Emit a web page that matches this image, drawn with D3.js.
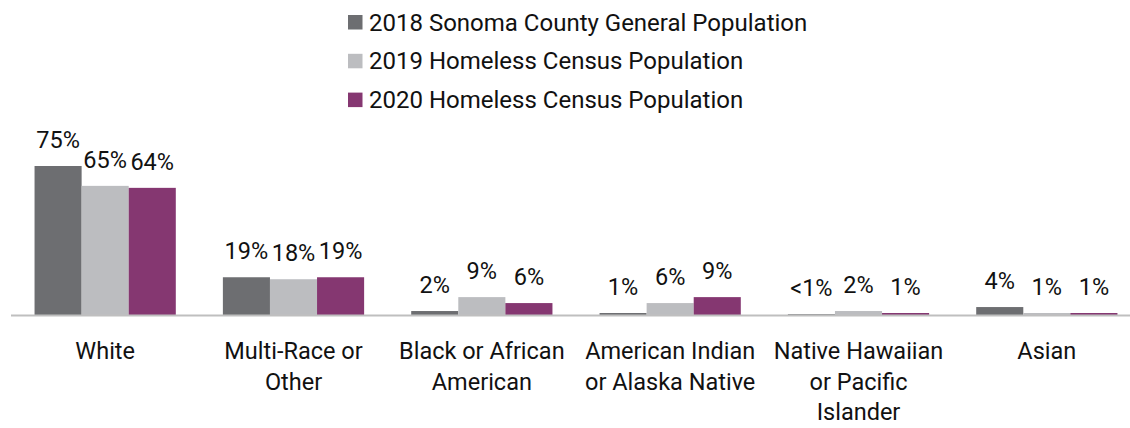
<!DOCTYPE html>
<html>
<head>
<meta charset="utf-8">
<script src="https://cdn.jsdelivr.net/npm/d3@7"></script>
<style>
  html, body { margin: 0; padding: 0; background: #ffffff; }
  svg { display: block; font-family: Roboto, "Noto Sans", Arial, sans-serif; }
</style>
</head>
<body>
<svg id="chart" width="1130" height="428"></svg>
<script>
// Race / ethnicity groups (line breaks mark the wrapped label lines)
const categories = [
  "White",
  "Multi-Race or\nOther",
  "Black or African\nAmerican",
  "American Indian\nor Alaska Native",
  "Native Hawaiian\nor Pacific\nIslander",
  "Asian"
];

const seriesNames = [
  "2018 Sonoma County General Population",
  "2019 Homeless Census Population",
  "2020 Homeless Census Population"
];

const seriesColors = ["#6d6e71", "#bcbdc0", "#853771"];

// Percent shares per series, in category order
const general2018 = [75, 19, 2, 1, 0.4, 4];
const homeless2019 = [65, 18, 9, 6, 2, 1];
const homeless2020 = [64, 19, 6, 9, 1, 1];

// Printed labels per series
const labels2018 = ["75%", "19%", "2%", "1%", "<1%", "4%"];
const labels2019 = ["65%", "18%", "9%", "6%", "2%", "1%"];
const labels2020 = ["64%", "19%", "6%", "9%", "1%", "1%"];

const seriesValues = [general2018, homeless2019, homeless2020];
const seriesLabels = [labels2018, labels2019, labels2020];

const svg = d3.select("#chart");

const baseline = 315;
const x0 = d3.scaleBand()
  .domain(categories)
  .range([11, 1141])
  .paddingInner(0.25)
  .paddingOuter(0.125);

const x1 = d3.scaleBand()
  .domain(d3.range(seriesNames.length))
  .range([0, x0.bandwidth()]);

const y = d3.scaleLinear()
  .domain([0, 75])
  .range([baseline, 166]);

// Bars
const groups = svg.append("g")
  .selectAll("g")
  .data(categories)
  .join("g")
  .attr("transform", d => `translate(${x0(d)},0)`);

const cells = (d, i) => seriesValues.map((vals, s) => ({ s, v: vals[i], label: seriesLabels[s][i] }));

groups.selectAll("rect")
  .data(cells)
  .join("rect")
  .attr("x", d => x1(d.s))
  .attr("width", x1.bandwidth())
  .attr("y", d => y(d.v))
  .attr("height", d => baseline - y(d.v))
  .attr("fill", d => seriesColors[d.s]);

// Value labels
groups.selectAll("text")
  .data(cells)
  .join("text")
  .attr("x", d => x1(d.s) + x1.bandwidth() / 2)
  .attr("y", d => y(d.v) - 18)
  .attr("text-anchor", "middle")
  .attr("font-size", 23.5)
  .attr("fill", "#111111")
  .text(d => d.label);

// Category axis line
svg.append("line")
  .attr("x1", 11)
  .attr("x2", 1130)
  .attr("y1", baseline + 0.5)
  .attr("y2", baseline + 0.5)
  .attr("stroke", "#bfbfbf")
  .attr("stroke-width", 2);

// Category labels
const catText = svg.append("g")
  .selectAll("text")
  .data(categories)
  .join("text")
  .attr("text-anchor", "middle")
  .attr("font-size", 23.5)
  .attr("fill", "#111111")
  .attr("transform", d => `translate(${x0(d) + x0.bandwidth() / 2},359)`);

catText.selectAll("tspan")
  .data(d => d.split("\n"))
  .join("tspan")
  .attr("x", 0)
  .attr("y", (d, i) => i * 30.5)
  .text(d => d);

// Legend
const legend = svg.append("g")
  .selectAll("g")
  .data(seriesNames)
  .join("g")
  .attr("transform", (d, i) => `translate(348,${30.5 + i * 38.8})`);

legend.append("rect")
  .attr("x", 0)
  .attr("y", -15.5)
  .attr("width", 14.5)
  .attr("height", 14.5)
  .attr("fill", (d, i) => seriesColors[i]);

legend.append("text")
  .attr("x", 21)
  .attr("y", 0)
  .attr("font-size", 24)
  .attr("fill", "#111111")
  .text(d => d);
</script>
</body>
</html>
